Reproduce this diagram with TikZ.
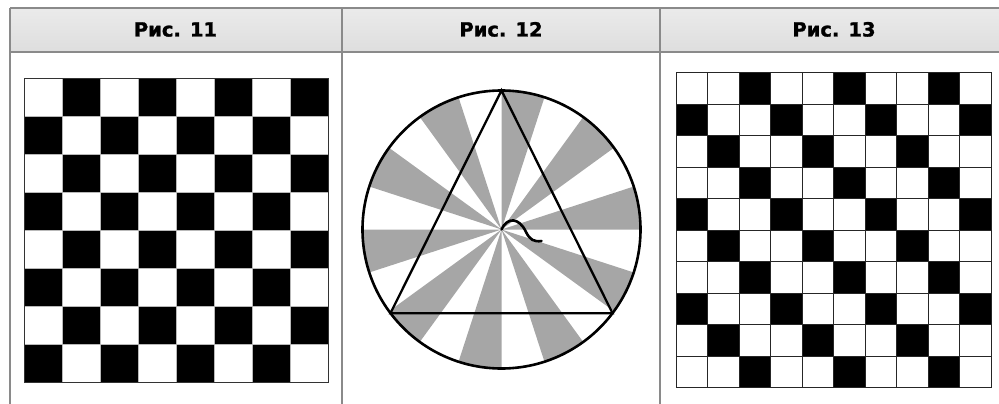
\documentclass[tikz,border=0pt]{standalone}
\usepackage{fontspec}
\usetikzlibrary{calc}
\newfontfamily\hdrfont{DejaVu Sans}[BoldFeatures={FakeBold=1.3}]
\definecolor{bordergray}{RGB}{138,138,138}
\definecolor{secgray}{RGB}{166,166,166}
\tikzset{
  border/.style={draw=bordergray, line width=1.6pt},
  hdr/.style={font=\hdrfont\bfseries\fontsize{19.5}{22}\selectfont, anchor=base, inner sep=0pt},
  thinline/.style={line width=0.6pt}
}
\begin{document}
\begin{tikzpicture}[x=1pt,y=-1pt]
\useasboundingbox (0,0) rectangle (999,404);
% header background
\shade[top color=gray!16, middle color=gray!3, bottom color=gray!26] (10,8) rectangle (999,52);
\node[hdr] (h1) at (175.5,36.5) {Рис. 11};
\node[hdr] (h2) at (501,36.5) {Рис. 12};
\node[hdr] (h3) at (834,36.5) {Рис. 13};
% borders
\draw[border] (10,8) -- (999,8);
\draw[border] (10,52) -- (999,52);
\draw[border] (10,8) -- (10,404);
\draw[border] (342,8) -- (342,404);
\draw[border] (660,8) -- (660,404);
% ---- Fig 11: checkerboard 8x8
\foreach \i in {0,...,7}{
  \foreach \j in {0,...,7}{
    \pgfmathtruncatemacro\p{mod(\i+\j,2)}
    \ifnum\p=1
      \fill[black] (24.5+38*\i,78.5+38*\j) rectangle ++(38,38);
    \fi
  }
}
\foreach \k in {1,...,7}{
  \draw[thinline, draw=gray!55] (24.5+38*\k,78.5) -- ++(0,304);
  \draw[thinline, draw=gray!55] (24.5,78.5+38*\k) -- ++(304,0);
}
\draw[line width=1pt, draw=black!80] (24.5,78.5) rectangle (328.5,382.5);
% ---- Fig 12: circle with sectors and triangle
\coordinate (c) at (501.5,229.5);
\foreach \k in {0,...,9}{
  \pgfmathsetmacro\a{36*\k+18}
  \fill[secgray] (c) -- ++(\a:139) arc[start angle=\a, end angle=\a+18, radius=139] -- cycle;
}
\draw[line width=2.6pt] (c) circle[radius=139];
\coordinate (ta) at ($(c)+(-90:139)$);
\coordinate (tl) at ($(c)+(143:139)$);
\coordinate (tr) at ($(c)+(37:139)$);
\draw[line width=2.3pt, line join=miter] (ta) -- (tr) -- (tl) -- cycle;
\coordinate (sq) at (541.5,241);
\draw[line width=2.6pt, line cap=round] (c) .. controls (507,217) and (519,217) .. (526,232) .. controls (530,240) and (534,242) .. (sq);
% ---- Fig 13: 10x10 grid
\foreach \i in {0,...,9}{
  \foreach \j in {0,...,9}{
    \pgfmathtruncatemacro\p{mod(\i-\j+30,3)}
    \ifnum\p=2
      \fill[black] (676+31.5*\i,72.5+31.5*\j) rectangle ++(31.5,31.5);
    \fi
  }
}
\foreach \k in {0,...,10}{
  \draw[line width=0.9pt, draw=black!85] (676+31.5*\k,72.5) -- ++(0,315);
  \draw[line width=0.9pt, draw=black!85] (676,72.5+31.5*\k) -- ++(315,0);
}
\end{tikzpicture}
\end{document}
